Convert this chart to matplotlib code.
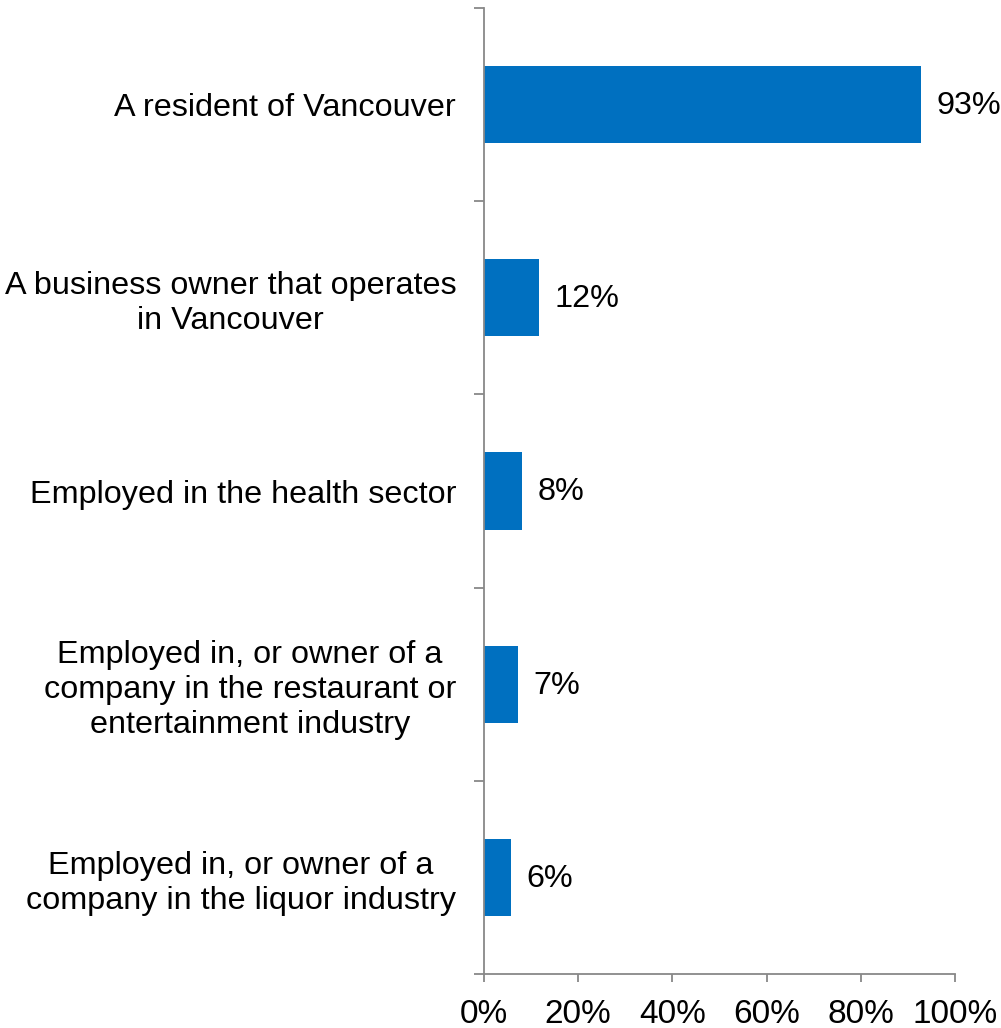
import numpy as np
import matplotlib.pyplot as plt
from matplotlib.ticker import FixedLocator

plt.rcParams['font.family'] = ['Liberation Sans', 'DejaVu Sans']

categories = [
    "A resident of Vancouver",
    "A business owner that operates\nin Vancouver",
    "Employed in the health sector",
    "Employed in, or owner of a\ncompany in the restaurant or\nentertainment industry",
    "Employed in, or owner of a\ncompany in the liquor industry",
]
values = [92.8, 11.7, 8.1, 7.2, 5.7]
xticks = [0, 20, 40, 60, 80, 100]

fs = 23.3

fig = plt.figure(figsize=(10.01, 10.28), dpi=100)
ax = fig.add_axes([484 / 1001, 54 / 1028, 471 / 1001, 966 / 1028])

pos = np.arange(len(categories))[::-1]
ax.barh(pos, values, height=0.4, color='#0070C0')

for p, v in zip(pos, values):
    ax.annotate(f"{v:.0f}%", xy=(v, p), xytext=(11, -1), textcoords='offset points',
                va='center', ha='left', fontsize=fs)

ax.set_xlim(0, 100)
ax.set_ylim(-0.5, len(categories) - 0.5)
ax.set_xticks(xticks)
ax.set_xticklabels([f"{t}%" for t in xticks], fontsize=24)
ax.set_yticks(pos)
ax.set_yticklabels(categories, fontsize=fs, multialignment='center', linespacing=1.2)
ax.yaxis.set_minor_locator(FixedLocator(np.arange(-0.5, len(categories), 1.0)))

ax.tick_params(axis='y', which='major', length=0, pad=20)
ax.tick_params(axis='y', which='minor', length=7, color='#888888', width=1.3)
ax.tick_params(axis='x', length=6, color='#888888', width=1.3, pad=12)

for s in ['top', 'right']:
    ax.spines[s].set_visible(False)
for s in ['left', 'bottom']:
    ax.spines[s].set_color('#888888')
    ax.spines[s].set_linewidth(1.3)

fig.savefig('out.png', dpi=100)
